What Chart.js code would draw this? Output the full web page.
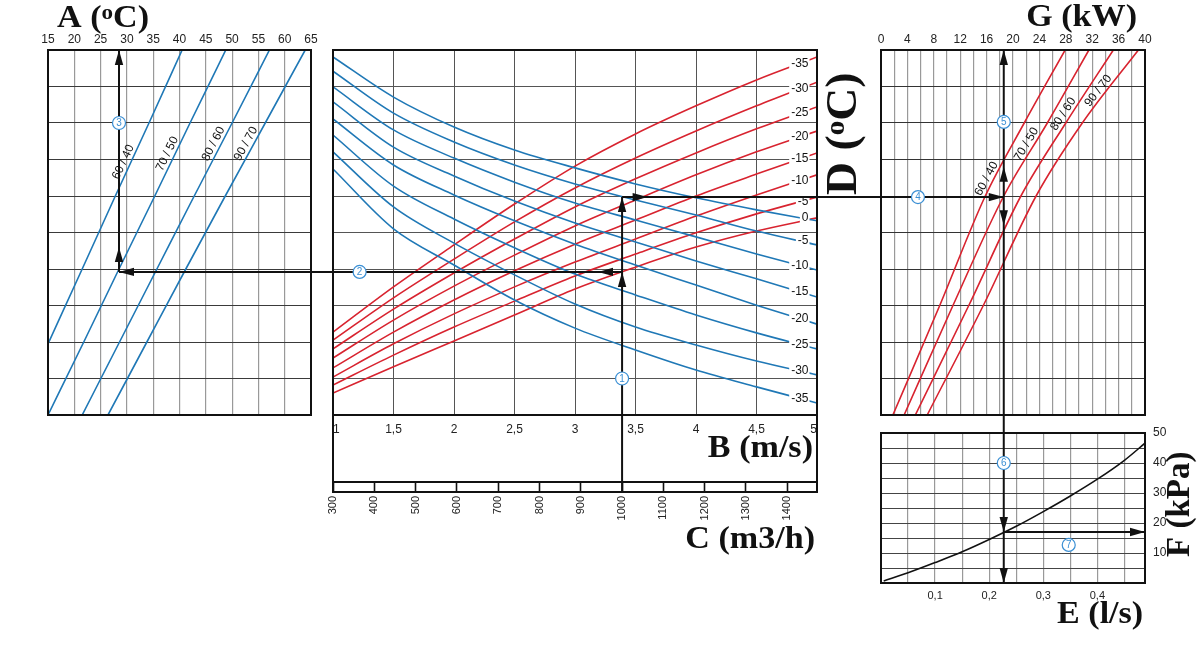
<!DOCTYPE html>
<html>
<head>
<meta charset="utf-8">
<title>Nomogram</title>
<script src="https://cdn.jsdelivr.net/npm/chart.js@4.4.1/dist/chart.umd.min.js"></script>
<style>
  body { margin: 0; background: #fff; }
  canvas { position: absolute; left: 0; top: 0; }
</style>
</head>
<body>
<canvas id="chartA" width="1200" height="650"></canvas>
<canvas id="chartM" width="1200" height="650"></canvas>
<canvas id="chartG" width="1200" height="650"></canvas>
<canvas id="chartE" width="1200" height="650"></canvas>
<script>
// grid rows shared by the three upper panels
var rowTicks = [0, 1, 2, 3, 4, 5, 6, 7, 8, 9, 10];
var regimes = ['60 / 40', '70 / 50', '80 / 60', '90 / 70'];

// panel A, A (ºC)
var aTicks = [15, 20, 25, 30, 35, 40, 45, 50, 55, 60, 65];
var aRows6040 = [1.95, 4, 6, 8, 10];
var aTemp6040 = [15, 21.5, 27.8, 34.2, 40.5];
var aRows = [0, 2, 4, 6, 8, 10];
var aTemp7050 = [15, 21.8, 28.5, 35.3, 42.0, 48.8];
var aTemp8060 = [21.5, 28.6, 35.7, 42.8, 50.0, 57.1];
var aTemp9070 = [26.4, 33.8, 41.2, 48.7, 56.3, 63.9];
var aLabelRows = [6.85, 7.07, 7.34, 7.34];

// main panel, B (m/s), C (m3/h), D (ºC)
var bSpeed = [1, 1.5, 2, 2.5, 3, 3.5, 4, 4.5, 5];
var bTicks = [1, 1.5, 2, 2.5, 3, 3.5, 4, 4.5, 5];
var cTicks = [300, 400, 500, 600, 700, 800, 900, 1000, 1100, 1200, 1300, 1400];
var redTemps = [-35, -30, -25, -20, -15, -10, -5, 0];
var redRows = [
  [2.27, 3.51, 4.66, 5.78, 6.82, 7.70, 8.47, 9.18, 9.81],
  [2.05, 3.21, 4.27, 5.29, 6.22, 7.04, 7.78, 8.47, 9.12],
  [1.81, 2.90, 3.89, 4.82, 5.70, 6.47, 7.18, 7.84, 8.44],
  [1.56, 2.60, 3.53, 4.38, 5.18, 5.89, 6.58, 7.21, 7.78],
  [1.29, 2.27, 3.15, 3.95, 4.68, 5.34, 6.00, 6.60, 7.18],
  [1.04, 1.95, 2.77, 3.51, 4.19, 4.82, 5.45, 6.03, 6.58],
  [0.82, 1.64, 2.41, 3.12, 3.81, 4.41, 4.99, 5.51, 5.97],
  [0.60, 1.32, 2.03, 2.74, 3.45, 4.05, 4.60, 5.04, 5.40]
];
var blueTemps = [0, -5, -10, -15, -20, -25, -30, -35];
var blueRows = [
  [9.81, 8.71, 7.89, 7.26, 6.77, 6.33, 5.95, 5.62, 5.32],
  [9.42, 8.27, 7.48, 6.85, 6.33, 5.89, 5.48, 5.04, 4.66],
  [8.99, 7.81, 7.04, 6.38, 5.81, 5.34, 4.88, 4.41, 3.97],
  [8.58, 7.34, 6.55, 5.86, 5.26, 4.74, 4.22, 3.73, 3.23],
  [8.11, 6.85, 6.03, 5.32, 4.68, 4.11, 3.56, 3.01, 2.49],
  [7.67, 6.27, 5.37, 4.58, 3.86, 3.29, 2.74, 2.25, 1.81],
  [7.21, 5.70, 4.71, 3.84, 3.04, 2.41, 1.92, 1.48, 1.10],
  [6.74, 5.10, 4.11, 3.15, 2.38, 1.78, 1.23, 0.77, 0.33]
];

// panel G, G (kW)
var gTicks = [0, 2, 4, 6, 8, 10, 12, 14, 16, 18, 20, 22, 24, 26, 28, 30, 32, 34, 36, 38, 40];
var gLabelled = [0, 4, 8, 12, 16, 20, 24, 28, 32, 36, 40];
var gRows = [0, 3, 6, 8, 10];
var gKw6040 = [1.8, 8.9, 15.8, 21.7, 27.9];
var gKw7050 = [3.5, 10.9, 18.6, 25.2, 31.5];
var gKw8060 = [5.2, 13.3, 21.2, 28.0, 35.2];
var gKw9070 = [7.0, 15.5, 23.5, 30.5, 39.0];
var gLabelRows = [6.38, 7.32, 8.14, 8.77];

// panel E / F
var eTicks = [0, 0.05, 0.1, 0.15, 0.2, 0.25, 0.3, 0.35, 0.4, 0.45];
var eLabels = ['', '', '0,1', '', '0,2', '', '0,3', '', '0,4', ''];
var fTicks = [0, 5, 10, 15, 20, 25, 30, 35, 40, 45, 50];
var fLabelled = [10, 20, 30, 40, 50];
var eFlow = [0.005, 0.05, 0.1, 0.15, 0.2, 0.25, 0.3, 0.35, 0.4, 0.45, 0.488];
var fDrop = [0.7, 3.4, 6.8, 10.4, 14.5, 18.9, 23.8, 29.0, 34.6, 40.9, 46.6];

// worked example
var readC = 1000, readA = 28.5, readG = 18.6, readE = 0.2274, readF = 17;
var rowLow = 3.92, rowHigh = 5.97;

var sans = '"Liberation Sans", Arial, Helvetica, sans-serif';
var serif = '"Liberation Serif", "Times New Roman", serif';
var BLUE = '#1f78b6', RED = '#d8232f', INK = '#111', BADGE = '#3a8fd4';
Chart.defaults.font.family = sans;
Chart.defaults.color = '#222';

var charts = {};

function fixed(size) {
  return function (s) {
    if (s.isHorizontal()) s.height = size; else s.width = size;
    s.paddingLeft = 0; s.paddingRight = 0; s.paddingTop = 0; s.paddingBottom = 0;
  };
}
function useTicks(values) {
  return function (s) { s.ticks = values.map(function (v) { return { value: v }; }); };
}
function line(xs, ys, color, width) {
  return {
    data: xs.map(function (x, i) { return { x: x, y: ys[i] }; }),
    borderColor: color, borderWidth: width || 1.6, pointRadius: 0, fill: false,
    cubicInterpolationMode: 'monotone'
  };
}
function baseOptions(padding, scales) {
  return {
    responsive: false, animation: false, devicePixelRatio: 1, events: [],
    layout: { padding: padding }, scales: scales,
    plugins: { legend: { display: false }, tooltip: { enabled: false } }
  };
}
function rowsScale(color, pos) {
  return {
    type: 'linear', position: pos || 'left', min: 0, max: 10,
    afterBuildTicks: useTicks(rowTicks), ticks: { display: false },
    grid: { color: color, lineWidth: 1, drawTicks: false }, border: { display: false },
    afterFit: fixed(0)
  };
}
function frame(ctx, l, t, r, b) {
  ctx.save(); ctx.strokeStyle = INK; ctx.lineWidth = 2;
  ctx.strokeRect(l, t, r - l, b - t); ctx.restore();
}
function seg(ctx, x1, y1, x2, y2) {
  ctx.beginPath(); ctx.moveTo(x1, y1); ctx.lineTo(x2, y2); ctx.stroke();
}
function head(ctx, x, y, dir) {
  var d = { up: [0, -1], down: [0, 1], left: [-1, 0], right: [1, 0] }[dir];
  var L = 15, W = 4.2, bx = x - d[0] * L, by = y - d[1] * L;
  ctx.beginPath(); ctx.moveTo(x, y);
  ctx.lineTo(bx - d[1] * W, by + d[0] * W);
  ctx.lineTo(bx + d[1] * W, by - d[0] * W);
  ctx.closePath(); ctx.fill();
}
function badge(ctx, x, y, n) {
  ctx.save();
  ctx.beginPath(); ctx.arc(x, y, 6.5, 0, Math.PI * 2);
  ctx.fillStyle = '#fff'; ctx.fill();
  ctx.lineWidth = 1.2; ctx.strokeStyle = BADGE; ctx.stroke();
  ctx.fillStyle = BADGE; ctx.font = '10px ' + sans;
  ctx.textAlign = 'center'; ctx.textBaseline = 'middle';
  ctx.fillText(String(n), x, y + 0.5);
  ctx.restore();
}
// big serif axis names; parts = [text, size, rise]
function title(ctx, parts, x, y, align, rot, stretch) {
  ctx.save(); ctx.translate(x, y); if (rot) ctx.rotate(rot);
  ctx.scale(stretch || 1.1, 1);
  ctx.fillStyle = INK; ctx.textBaseline = 'alphabetic'; ctx.textAlign = 'left';
  var total = 0;
  parts.forEach(function (p) { ctx.font = 'bold ' + p[1] + 'px ' + serif; total += ctx.measureText(p[0]).width; });
  var cx = align === 'right' ? -total : 0;
  parts.forEach(function (p) {
    ctx.font = 'bold ' + p[1] + 'px ' + serif;
    ctx.fillText(p[0], cx, -(p[2] || 0));
    cx += ctx.measureText(p[0]).width;
  });
  ctx.restore();
}
function lineLabel(ctx, chart, xs, ys, row, text) {
  var sx = chart.scales.x, sy = chart.scales.y, i = 1;
  while (i < ys.length - 1 && ys[i] < row) i++;
  var f = (row - ys[i - 1]) / (ys[i] - ys[i - 1]);
  var px = sx.getPixelForValue(xs[i - 1] + f * (xs[i] - xs[i - 1]));
  var py = sy.getPixelForValue(row);
  var ang = Math.atan2(sy.getPixelForValue(ys[i]) - sy.getPixelForValue(ys[i - 1]),
                       sx.getPixelForValue(xs[i]) - sx.getPixelForValue(xs[i - 1]));
  ctx.save(); ctx.translate(px, py); ctx.rotate(ang);
  ctx.font = '12px ' + sans; ctx.fillStyle = INK;
  ctx.textAlign = 'center'; ctx.textBaseline = 'bottom';
  ctx.fillText(text, 0, -1);
  ctx.restore();
}
function rowAt(rows, b) {
  for (var i = 1; i < bSpeed.length; i++) {
    if (b <= bSpeed[i]) {
      var f = (b - bSpeed[i - 1]) / (bSpeed[i] - bSpeed[i - 1]);
      return rows[i - 1] + f * (rows[i] - rows[i - 1]);
    }
  }
  return rows[rows.length - 1];
}
function dLabel(ctx, chart, rows, text) {
  var y = chart.scales.y.getPixelForValue(rowAt(rows, 4.86));
  var xr = chart.scales.x.getPixelForValue(4.93);
  ctx.font = '12px ' + sans;
  var w = ctx.measureText(text).width;
  ctx.fillStyle = '#fff'; ctx.fillRect(xr - w - 2, y - 6, w + 3, 12);
  ctx.fillStyle = INK; ctx.textAlign = 'right'; ctx.textBaseline = 'middle';
  ctx.fillText(text, xr, y);
}

// ---------------- panel A ----------------
charts.A = new Chart(document.getElementById('chartA'), {
  type: 'line',
  data: { datasets: [
    line(aTemp6040, aRows6040, BLUE), line(aTemp7050, aRows, BLUE),
    line(aTemp8060, aRows, BLUE), line(aTemp9070, aRows, BLUE)
  ] },
  options: baseOptions({ left: 48, right: 889, top: 34, bottom: 235 }, {
    x: {
      type: 'linear', position: 'top', min: 15, max: 65,
      afterBuildTicks: useTicks(aTicks),
      ticks: { font: { size: 12 }, padding: 3, maxRotation: 0 },
      grid: { color: '#999', lineWidth: 1.2, drawTicks: false }, border: { display: false },
      afterFit: fixed(16)
    },
    y: rowsScale('#3a3a3a')
  }),
  plugins: [{ id: 'decorA', afterDraw: function (chart) {
    var ctx = chart.ctx, ca = chart.chartArea;
    frame(ctx, ca.left, ca.top, ca.right, ca.bottom);
    lineLabel(ctx, chart, aTemp6040, aRows6040, aLabelRows[0], regimes[0]);
    lineLabel(ctx, chart, aTemp7050, aRows, aLabelRows[1], regimes[1]);
    lineLabel(ctx, chart, aTemp8060, aRows, aLabelRows[2], regimes[2]);
    lineLabel(ctx, chart, aTemp9070, aRows, aLabelRows[3], regimes[3]);
    title(ctx, [['A (', 31], ['o', 21, 8], ['C)', 31]], ca.left + 9, ca.top - 23);
  } }]
});

// ---------------- main panel ----------------
var mainSets = [];
blueRows.forEach(function (r) { mainSets.push(line(bSpeed, r, BLUE)); });
redRows.forEach(function (r) { mainSets.push(line(bSpeed, r, RED)); });

charts.M = new Chart(document.getElementById('chartM'), {
  type: 'line',
  data: { datasets: mainSets },
  options: baseOptions({ left: 333, right: 383, top: 50, bottom: 123 }, {
    x: {
      type: 'linear', position: 'bottom', min: 1, max: 5, weight: 0,
      afterBuildTicks: useTicks(bTicks),
      ticks: { font: { size: 12 }, padding: 7, align: 'inner', maxRotation: 0,
               callback: function (v) { return String(v).replace('.', ','); } },
      grid: { color: '#555', lineWidth: 1, drawTicks: false }, border: { display: false },
      afterFit: fixed(67)
    },
    xc: {
      type: 'linear', position: 'bottom', min: 300, max: 1472, weight: 1,
      afterBuildTicks: useTicks(cTicks),
      ticks: { font: { size: 11 }, padding: 4, minRotation: 90, maxRotation: 90, autoSkip: false,
               callback: function (v) { return String(v); } },
      grid: { drawOnChartArea: false, drawTicks: true, tickLength: 10, tickColor: INK, tickWidth: 1.6 },
      border: { display: false },
      afterFit: fixed(45)
    },
    y: rowsScale('#555')
  }),
  plugins: [{ id: 'decorM', afterDraw: function (chart) {
    var ctx = chart.ctx, ca = chart.chartArea, stripTop = chart.scales.xc.top;
    blueRows.forEach(function (r, i) { dLabel(ctx, chart, r, String(blueTemps[i])); });
    redRows.forEach(function (r, i) { if (redTemps[i] !== 0) dLabel(ctx, chart, r, String(redTemps[i])); });
    frame(ctx, ca.left, ca.top, ca.right, stripTop + 10);
    ctx.save(); ctx.strokeStyle = INK; ctx.lineWidth = 2;
    seg(ctx, ca.left, ca.bottom, ca.right, ca.bottom);
    seg(ctx, ca.left, stripTop, ca.right, stripTop);
    ctx.restore();
    title(ctx, [['D (', 44], ['o', 28, 12], ['C)', 44]], ca.right + 39, 195, 'left', -Math.PI / 2, 1.04);
    title(ctx, [['B (m/s)', 31]], ca.right - 4, ca.bottom + 42, 'right');
    title(ctx, [['C (m3/h)', 31]], ca.right - 2, stripTop + 66, 'right');
  } }]
});

// ---------------- panel G ----------------
charts.G = new Chart(document.getElementById('chartG'), {
  type: 'line',
  data: { datasets: [
    line(gKw6040, gRows, RED), line(gKw7050, gRows, RED),
    line(gKw8060, gRows, RED), line(gKw9070, gRows, RED)
  ] },
  options: baseOptions({ left: 881, right: 55, top: 34, bottom: 235 }, {
    x: {
      type: 'linear', position: 'top', min: 0, max: 40,
      afterBuildTicks: useTicks(gTicks),
      ticks: { font: { size: 12 }, padding: 3, maxRotation: 0, autoSkip: false,
               callback: function (v) { return gLabelled.indexOf(v) >= 0 ? String(v) : ''; } },
      grid: { color: '#999', lineWidth: 1.2, drawTicks: false }, border: { display: false },
      afterFit: fixed(16)
    },
    y: rowsScale('#333')
  }),
  plugins: [{ id: 'decorG', afterDraw: function (chart) {
    var ctx = chart.ctx, ca = chart.chartArea;
    frame(ctx, ca.left, ca.top, ca.right, ca.bottom);
    lineLabel(ctx, chart, gKw6040, gRows, gLabelRows[0], regimes[0]);
    lineLabel(ctx, chart, gKw7050, gRows, gLabelRows[1], regimes[1]);
    lineLabel(ctx, chart, gKw8060, gRows, gLabelRows[2], regimes[2]);
    lineLabel(ctx, chart, gKw9070, gRows, gLabelRows[3], regimes[3]);
    title(ctx, [['G (kW)', 31]], ca.right - 8, ca.top - 24, 'right');
  } }]
});

// ---------------- panel E / F, plus the worked example ----------------
charts.E = new Chart(document.getElementById('chartE'), {
  type: 'line',
  data: { datasets: [line(eFlow, fDrop, INK, 1.6)] },
  options: baseOptions({ left: 881, right: 33, top: 433, bottom: 45 }, {
    x: {
      type: 'linear', position: 'bottom', min: 0, max: 0.488,
      afterBuildTicks: useTicks(eTicks),
      ticks: { font: { size: 11 }, padding: 6, maxRotation: 0, autoSkip: false,
               callback: function (v, i) { return eLabels[i] || ''; } },
      grid: { color: '#999', lineWidth: 1.2, drawTicks: false }, border: { display: false },
      afterFit: fixed(22)
    },
    y: {
      type: 'linear', position: 'right', min: 0, max: 50,
      afterBuildTicks: useTicks(fTicks),
      ticks: { font: { size: 12 }, padding: 8, autoSkip: false,
               callback: function (v) { return fLabelled.indexOf(v) >= 0 ? String(v) : ''; } },
      grid: { color: '#444', lineWidth: 1, drawTicks: false }, border: { display: false },
      afterFit: fixed(22)
    }
  }),
  plugins: [{ id: 'decorE', afterDraw: function (chart) {
    var ctx = chart.ctx, ca = chart.chartArea;
    frame(ctx, ca.left, ca.top, ca.right, ca.bottom);
    title(ctx, [['E (l/s)', 31]], ca.left + 176, ca.bottom + 40, 'left');
    title(ctx, [['F (kPa)', 33]], ca.right + 44, ca.bottom - 26, 'left', -Math.PI / 2, 1);

    var A = charts.A, M = charts.M, G = charts.G, E = chart;
    var x1 = M.scales.xc.getPixelForValue(readC);
    var yLow = M.scales.y.getPixelForValue(rowLow);
    var yHigh = M.scales.y.getPixelForValue(rowHigh);
    var yStrip = M.scales.xc.top + 10;
    var xA = A.scales.x.getPixelForValue(readA);
    var xG = G.scales.x.getPixelForValue(readG);
    var yF = E.scales.y.getPixelForValue(readF);
    var xEnd = E.chartArea.right;

    ctx.save();
    ctx.strokeStyle = INK; ctx.fillStyle = INK; ctx.lineWidth = 2;
    seg(ctx, x1, yStrip, x1, yHigh);
    seg(ctx, x1, yLow, xA, yLow);
    seg(ctx, xA, yLow, xA, A.chartArea.top);
    seg(ctx, x1, yHigh, xG, yHigh);
    seg(ctx, xG, G.chartArea.top, xG, E.chartArea.bottom);
    seg(ctx, xG, yF, xEnd, yF);

    head(ctx, x1, yLow, 'up');
    head(ctx, x1, yHigh, 'up');
    head(ctx, M.scales.x.getPixelForValue(3.19), yLow, 'left');
    head(ctx, xA, yLow, 'left');
    head(ctx, xA, A.scales.y.getPixelForValue(4.6), 'up');
    head(ctx, xA, A.chartArea.top, 'up');
    head(ctx, M.scales.x.getPixelForValue(3.6), yHigh, 'right');
    head(ctx, xG, yHigh, 'right');
    head(ctx, xG, G.chartArea.top, 'up');
    head(ctx, xG, G.scales.y.getPixelForValue(6.8), 'up');
    head(ctx, xG, G.scales.y.getPixelForValue(5.2), 'down');
    head(ctx, xG, yF, 'down');
    head(ctx, xG, E.chartArea.bottom, 'down');
    head(ctx, xEnd, yF, 'right');
    ctx.restore();

    badge(ctx, x1, M.scales.y.getPixelForValue(1.0), 1);
    badge(ctx, M.scales.x.getPixelForValue(1.22), yLow, 2);
    badge(ctx, xA, A.scales.y.getPixelForValue(8.0), 3);
    badge(ctx, G.scales.x.getPixelForValue(5.6), yHigh, 4);
    badge(ctx, xG, G.scales.y.getPixelForValue(8.03), 5);
    badge(ctx, xG, E.scales.y.getPixelForValue(40), 6);
    badge(ctx, E.scales.x.getPixelForValue(0.347), E.scales.y.getPixelForValue(12.7), 7);
  } }]
});
</script>
</body>
</html>
